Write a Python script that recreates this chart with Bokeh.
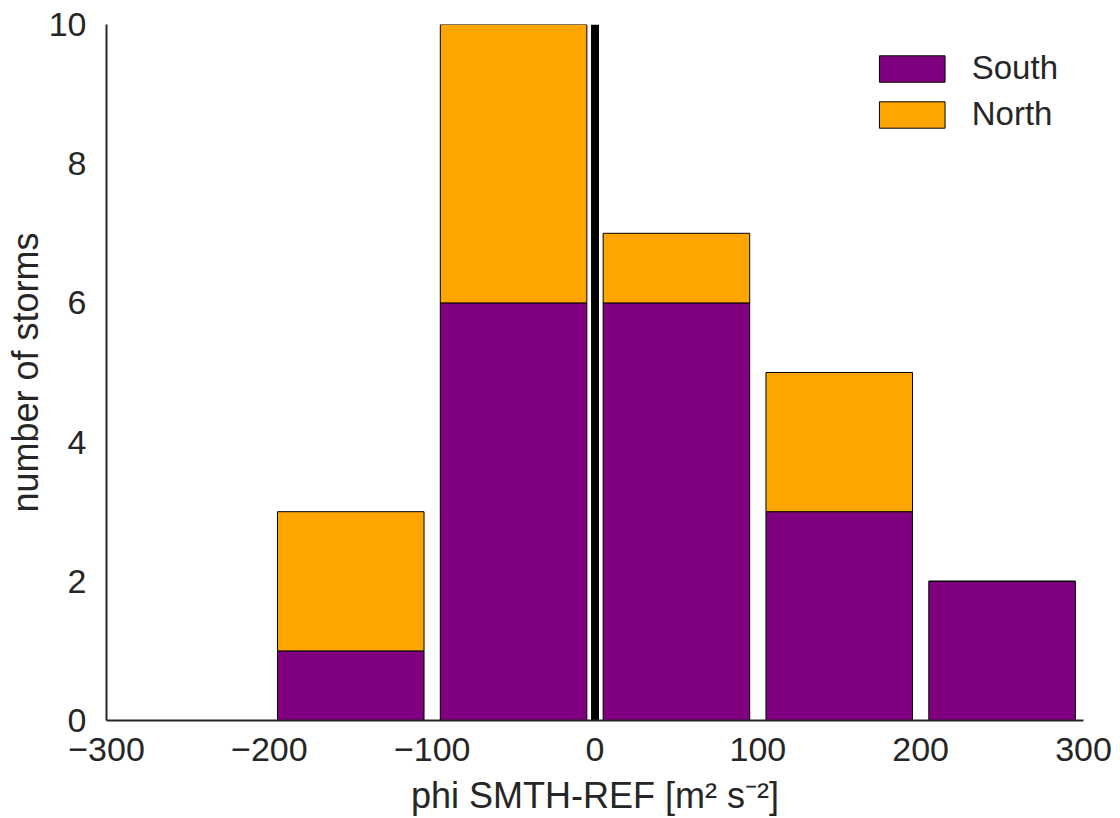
from bokeh.plotting import figure
from bokeh.models import Range1d, ColumnDataSource, Legend, LegendItem, CustomJSTickFormatter, FixedTicker
from bokeh.embed import file_html
from bokeh.resources import INLINE

# Data
bin_centers = [-150, -50, 50, 150, 250]
south_counts = [1, 6, 6, 3, 2]
north_counts = [2, 4, 1, 2, 0]
x_ticks = [-300, -200, -100, 0, 100, 200, 300]
y_ticks = [0, 2, 4, 6, 8, 10]
zero_line_x = [0, 0]
zero_line_y = [0, 10]

south_top = south_counts
north_bottom = south_counts
north_top = [s + n for s, n in zip(south_counts, north_counts)]

FONT = "Liberation Sans"
TXT = "#262626"

p = figure(width=1120, height=818, output_backend="svg", toolbar_location=None,
           x_range=Range1d(-300, 300), y_range=Range1d(0, 10),
           min_border_left=106, min_border_right=37, min_border_top=24, min_border_bottom=98)
p.outline_line_color = None
p.background_fill_color = "white"
p.border_fill_color = "white"
p.xgrid.visible = False
p.ygrid.visible = False

src = ColumnDataSource(dict(x=bin_centers, s=south_top, nb=north_bottom, nt=north_top))
r_s = p.vbar(x="x", width=90, bottom=0, top="s", source=src,
             fill_color="purple", line_color="black", line_width=1)
r_n = p.vbar(x="x", width=90, bottom="nb", top="nt", source=src,
             fill_color="orange", line_color="black", line_width=1)
p.line(zero_line_x, zero_line_y, line_color="black", line_width=8)

for ax in (p.xaxis, p.yaxis):
    ax.axis_line_color = TXT
    ax.axis_line_width = 2
    ax.major_tick_line_color = None
    ax.minor_tick_line_color = None
    ax.major_label_text_font = FONT
    ax.major_label_text_font_size = "34px"
    ax.major_label_text_color = TXT
    ax.axis_label_text_font = FONT
    ax.axis_label_text_font_size = "36px"
    ax.axis_label_text_font_style = "normal"
    ax.axis_label_text_color = TXT

p.xaxis.ticker = FixedTicker(ticks=x_ticks)
p.yaxis.ticker = FixedTicker(ticks=y_ticks)
fmt = CustomJSTickFormatter(code="return tick < 0 ? '\u2212' + Math.abs(tick) : String(tick);")
p.xaxis.formatter = fmt
p.xaxis.major_label_standoff = 11
p.yaxis.major_label_standoff = 14
p.xaxis.axis_label = "phi SMTH-REF [m\u00b2 s\u207b\u00b2]"
p.yaxis.axis_label = "number of storms"
p.xaxis.axis_label_standoff = 11
p.yaxis.axis_label_standoff = 0

legend = Legend(items=[LegendItem(label="South", renderers=[r_s]),
                       LegendItem(label="North", renderers=[r_n])],
                location="top_right")
legend.border_line_color = None
legend.background_fill_alpha = 0
legend.label_text_font = FONT
legend.label_text_font_size = "33px"
legend.label_text_color = TXT
legend.glyph_width = 82
legend.glyph_height = 33
legend.label_standoff = 19
legend.spacing = 8
legend.padding = 0
legend.margin = 25
legend.label_height = 33
p.add_layout(legend, "center")

open("out.html", "w").write(file_html(p, INLINE))
